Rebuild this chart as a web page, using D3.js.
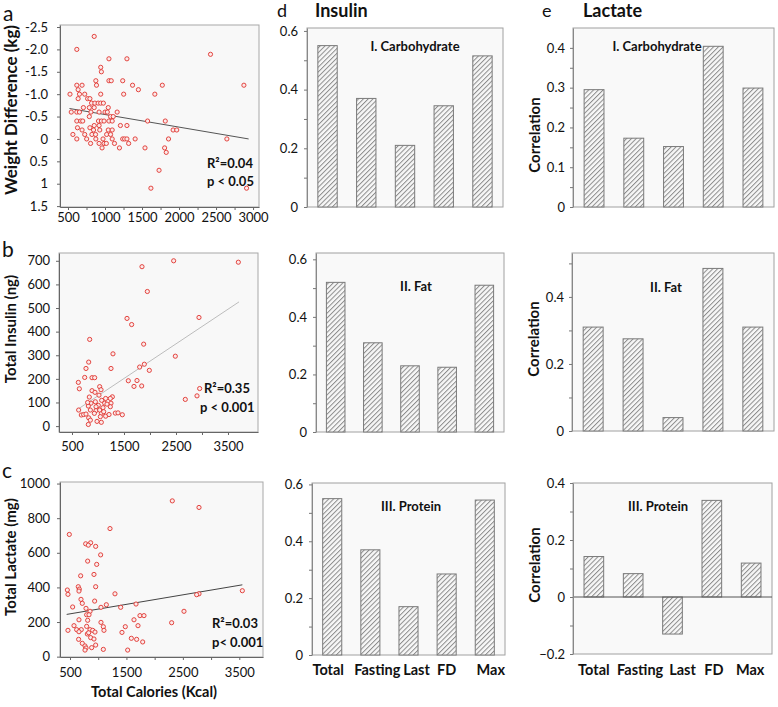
<!DOCTYPE html>
<html><head><meta charset="utf-8">
<script src="https://cdn.jsdelivr.net/npm/d3@7"></script>
<style>body{margin:0;background:#fff}svg{display:block}text{font-family:Lato,"Open Sans",sans-serif;fill:#111}</style>
</head><body><svg id="chart" width="778" height="707"></svg>
<script>
// ---------- DATA ----------
// a: Total calories (Kcal) vs weight difference (kg)
const scatterA = [[854,-2.29],[619,-2.0],[2425,-1.89],[1053,-1.79],[1296,-1.79],[942,-1.6],[951,-1.5],
[1053,-1.3],[1084,-1.3],[876,-1.3],[1239,-1.3],[619,-1.2],[690,-1.2],[885,-1.2],[1372,-1.2],[1774,-1.2],[2876,-1.2],
[637,-1.1],[1451,-1.1],[527,-1.0],[655,-1.0],[726,-1.0],[942,-1.0],[1252,-1.0],[1673,-1.0],
[637,-0.9],[765,-0.9],[796,-0.9],[818,-0.8],[863,-0.8],[907,-0.8],[942,-0.8],[978,-0.8],
[708,-0.7],[788,-0.7],[854,-0.7],[1044,-0.7],[544,-0.6],[619,-0.6],[655,-0.6],[810,-0.6],[920,-0.6],[1000,-0.6],[1031,-0.6],[1164,-0.6],
[788,-0.5],[1075,-0.5],[1111,-0.5],[619,-0.4],[672,-0.4],[699,-0.4],[912,-0.4],[951,-0.4],[987,-0.4],[1053,-0.4],[1097,-0.4],[1575,-0.4],[1814,-0.4],
[628,-0.25],[854,-0.3],[920,-0.3],[1208,-0.3],[1296,-0.3],[796,-0.25],
[690,-0.2],[845,-0.2],[929,-0.2],[1044,-0.2],[1097,-0.2],[1920,-0.2],[1969,-0.2],
[566,-0.1],[726,-0.1],[823,-0.1],[872,-0.1],[1022,-0.1],[1075,-0.1],
[619,0],[752,0],[876,0],[973,0],[1097,0],[1239,0],[1265,0],[1296,0],[1407,0],[1858,0],[2646,0],
[805,0.1],[920,0.1],[987,0.1],[1018,0.1],[1128,0.1],[1319,0.1],
[960,0.2],[1195,0.2],[1540,0.2],[1805,0.2],[1827,0.3],[1730,0.7],[1620,1.1],[2912,1.1]];
const fitA = [[520,-0.68],[2940,0.0]];
const aXTicks = [500,1000,1500,2000,2500,3000];
const aYTicks = [-2.5,-2,-1.5,-1,-0.5,0,0.5,1,1.5];
const aYLabels = ["-2.5","-2.0","-1.5","-1.0","-0.5","0","0.5","1","1.5"];

// b: Total calories vs total insulin (ng)
const scatterB = [[2455,700],[3699,694],[1846,675],[1949,570],[1558,456],[2942,460],[1647,430],[840,367],[1878,347],[1288,306],
[2487,296],[821,271],[1891,262],[769,244],[1250,244],[1801,250],[1987,236],[744,206],[885,205],[936,205],[622,185],[1583,192],
[1750,193],[641,158],[1032,167],[1058,154],[885,150],[942,143],[1692,168],[1840,170],[833,123],[1276,124],[1250,97],[1071,109],
[1128,97],[865,97],[1006,88],[814,85],[628,68],[679,47],[724,49],[962,66],[1064,54],[1147,42],[1212,49],[1333,55],[1385,56],
[1468,48],[821,35],[853,25],[981,20],[1064,16],[814,7],[1096,78],[1237,117],[1237,82],[1173,93],[1019,131],[949,103],[962,82],
[1032,68],[1045,40],[930,54],[1109,61],[769,51],[853,68],[2679,113],[2904,128],[2955,159],[1147,117],[801,100]];
const fitB = [[609,71],[3712,526]];
const bXLabels = [500,1500,2500,3500];
const bYTicks = [0,100,200,300,400,500,600,700];

// c: Total calories vs total lactate (mg)
const scatterC = [[2313,900],[2786,862],[488,706],[1209,740],[778,652],[866,658],[825,644],[955,637],[813,552],[1043,588],[973,533],
[689,467],[925,475],[647,404],[665,390],[659,379],[955,404],[453,385],[464,360],[1297,363],[2786,363],[2744,358],[3554,381],
[695,331],[937,321],[718,308],[1670,304],[1144,300],[784,279],[1049,285],[1398,285],[547,287],[855,262],[795,242],[837,242],
[2520,262],[1740,237],[1811,237],[1634,213],[659,213],[813,210],[1049,198],[2301,196],[571,179],[795,175],[1091,173],[1480,173],
[1705,179],[464,152],[618,156],[700,156],[855,156],[902,152],[943,142],[1102,152],[659,144],[807,131],[1421,140],[866,110],
[653,100],[1587,106],[1681,100],[925,102],[718,77],[766,62],[955,67],[784,50],[884,52],[1091,42],[1522,38],[1788,85],[766,38],[831,138]];
const fitC = [[441,244],[3554,415]];
const cXLabels = [500,1500,2500,3500];
const cYTicks = [0,200,400,600,800,1000];

// d/e: correlation bars
const categories = ["Total","Fasting","Last","FD","Max"];
const insulinCarb    = [0.55, 0.37, 0.21, 0.345, 0.515];
const insulinFat     = [0.52, 0.31, 0.23, 0.225, 0.51];
const insulinProtein = [0.55, 0.37, 0.17, 0.285, 0.545];
const lactateCarb    = [0.295, 0.173, 0.152, 0.404, 0.299];
const lactateFat     = [0.31, 0.275, 0.04, 0.485, 0.31];
const lactateProtein = [0.142, 0.082, -0.13, 0.339, 0.119];

// ---------- DRAWING ----------
const svg = d3.select("#chart");
const defs = svg.append("defs");
const pat = defs.append("pattern").attr("id","hatch").attr("patternUnits","userSpaceOnUse")
  .attr("width",3.4).attr("height",3.4).attr("patternTransform","rotate(45)");
pat.append("rect").attr("width",3.4).attr("height",3.4).attr("fill","#f7f7f7");
pat.append("line").attr("x1",0.5).attr("y1",0).attr("x2",0.5).attr("y2",3.4).attr("stroke","#8c8c8c").attr("stroke-width",1);

function txt(x,y,s,size,weight,anchor){
  return svg.append("text").attr("x",x).attr("y",y).attr("font-size",size)
    .attr("font-weight",weight||"normal").attr("text-anchor",anchor||"start").text(s);
}
function vtxt(x,y,s,size){
  return svg.append("text").attr("transform",`translate(${x},${y}) rotate(-90)`)
    .attr("font-size",size).attr("font-weight","bold").attr("text-anchor","middle").text(s);
}

function scatter(o){
  const x = d3.scaleLinear().domain(o.xd).range([o.l,o.r]);
  const y = d3.scaleLinear().domain(o.yd).range(o.yr);
  const g = svg.append("g");
  g.append("rect").attr("x",o.l).attr("y",o.t).attr("width",o.r-o.l).attr("height",o.b-o.t)
    .attr("fill","#f8f8f8").attr("stroke","#a8a8a8").attr("stroke-width",1);
  const ya = g.append("g").attr("transform",`translate(${o.l},0)`)
    .call(d3.axisLeft(y).tickValues(o.yTicks).tickSize(3).tickSizeOuter(0).tickPadding(o.yPad)
      .tickFormat((d,i)=> o.yLabels ? o.yLabels[i] : d));
  const xa = g.append("g").attr("transform",`translate(0,${o.b})`)
    .call(d3.axisBottom(x).tickValues(o.xTicks).tickSize(3).tickSizeOuter(0)
      .tickFormat(d=> o.xLabels.includes(d) ? d : ""));
  [ya,xa].forEach(a=>{
    a.select(".domain").attr("stroke","#666");
    a.selectAll(".tick line").attr("stroke","#666");
    a.selectAll("text").attr("font-size",13).attr("font-family","Lato,sans-serif").attr("fill","#111");
  });
  xa.selectAll("text").attr("dy",null).attr("y",o.xLabOff);
  g.append("line").attr("x1",x(o.fit[0][0])).attr("y1",y(o.fit[0][1]))
    .attr("x2",x(o.fit[1][0])).attr("y2",y(o.fit[1][1]))
    .attr("stroke",o.fitColor).attr("stroke-width",1);
  g.selectAll("circle.pt").data(o.data).join("circle").attr("class","pt")
    .attr("cx",d=>x(d[0])).attr("cy",d=>y(d[1])).attr("r",2.1)
    .attr("fill","#fbeaea").attr("stroke","#e0332e").attr("stroke-width",0.9);
}

scatter({data:scatterA, fit:fitA, fitColor:"#555", l:60, r:259, t:25, b:207,
  xd:[392,3080], yd:[-2.545,1.52], yr:[25,207],
  xTicks:[500,750,1000,1250,1500,1750,2000,2250,2500,2750,3000], xLabels:aXTicks,
  yTicks:aYTicks, yLabels:aYLabels, yPad:9, xLabOff:15});
scatter({data:scatterB, fit:fitB, fitColor:"#bdbdbd", l:59, r:258, t:253, b:432,
  xd:[250,4077], yd:[-25,733], yr:[432,253],
  xTicks:[500,1000,1500,2000,2500,3000,3500], xLabels:bXLabels,
  yTicks:bYTicks, yPad:6, xLabOff:19});
scatter({data:scatterC, fit:fitC, fitColor:"#444", l:60, r:263, t:482, b:657,
  xd:[323,3920], yd:[-2,1009], yr:[657,482],
  xTicks:[500,1000,1500,2000,2500,3000,3500], xLabels:cXLabels,
  yTicks:cYTicks, yPad:7, xLabOff:20});

// stats text
txt(207,168,"R²=0.04",13,"bold");
txt(207,186,"p < 0.05",13,"bold");
txt(204,393,"R²=0.35",13,"bold");
txt(200,412,"p < 0.001",13,"bold");
txt(212,628,"R²=0.03",13,"bold");
txt(212,647,"p< 0.001",13,"bold");

// axis titles
vtxt(17,110,"Weight Difference (kg)",17);
vtxt(16,329,"Total Insulin (ng)",15);
vtxt(16,557,"Total Lactate (mg)",15);
txt(154,697,"Total Calories (Kcal)",14.5,"bold","middle");

// panel letters and headings
txt(3,21,"a",21);
txt(2,257,"b",21);
txt(2,478,"c",21);
txt(277,17,"d",18);
txt(542,17,"e",18);
txt(315,17,"Insulin",18,"bold");
txt(583,17,"Lactate",18,"bold");

function barPanel(o){
  const x = d3.scaleBand().domain(categories).range([o.l,o.r]).paddingInner(0.5).paddingOuter(0.28);
  const y = d3.scaleLinear().domain(o.yd).range([o.b,o.t]);
  const g = svg.append("g");
  g.append("rect").attr("x",o.l).attr("y",o.t).attr("width",o.r-o.l).attr("height",o.b-o.t)
    .attr("fill","#f9f9f9").attr("stroke","#a0a0a0").attr("stroke-width",1);
  g.selectAll("rect.bar").data(o.values).join("rect").attr("class","bar")
    .attr("x",(d,i)=>x(categories[i])).attr("width",x.bandwidth())
    .attr("y",d=>y(Math.max(0,d))).attr("height",d=>Math.abs(y(d)-y(0)))
    .attr("fill","url(#hatch)").attr("stroke","#7a7a7a").attr("stroke-width",1);
  if (o.yd[0] < 0) {
    g.append("line").attr("x1",o.l).attr("x2",o.r).attr("y1",y(0)).attr("y2",y(0))
      .attr("stroke","#555").attr("stroke-width",1);
  }
  const ya = g.append("g").attr("transform",`translate(${o.l},0)`)
    .call(d3.axisLeft(y).tickValues(o.ticks).tickSize(3).tickSizeOuter(0).tickPadding(o.pad||6)
      .tickFormat(d=> o.labels.some(v=>Math.abs(v-d)<1e-9) ? d3.format("")(+d.toFixed(2)) : ""));
  ya.select(".domain").attr("stroke","#888");
  ya.selectAll(".tick line").attr("stroke","#777");
  ya.selectAll("text").attr("font-size",13).attr("font-family","Lato,sans-serif").attr("fill","#111");
  txt(o.labX,o.labY,o.label,13,"bold","middle");
  if (o.ylab) vtxt(o.l-33,o.ylabY,"Correlation",15);
  if (o.cats) {
    categories.forEach((c,i)=>{
      txt(x(c)+x.bandwidth()/2 + o.catDx[i], 675, c, 14.5, "bold", "middle");
    });
  }
}
const dTicks = [0,0.1,0.2,0.3,0.4,0.5,0.6];
const dLabels = [0,0.2,0.4,0.6];
barPanel({values:insulinCarb, l:307,r:503,t:28,b:207, yd:[0,0.61], ticks:dTicks, labels:dLabels,
  label:"I. Carbohydrate", labX:415, labY:51});
barPanel({values:insulinFat, l:316,r:504,t:253,b:432, yd:[0,0.622], ticks:dTicks, labels:dLabels,
  label:"II. Fat", labX:416, labY:291});
barPanel({values:insulinProtein, l:312,r:505,t:483,b:655, yd:[0,0.605], ticks:dTicks, labels:dLabels,
  label:"III. Protein", labX:411, labY:511, cats:true, catDx:[-4,7,8,0,6]});
barPanel({values:lactateCarb, l:573,r:774,t:28,b:207, yd:[0,0.45],
  ticks:[0,0.05,0.1,0.15,0.2,0.25,0.3,0.35,0.4], labels:[0,0.1,0.2,0.3,0.4],
  label:"I. Carbohydrate", labX:657, labY:51, ylab:true, ylabY:135, pad:5});
barPanel({values:lactateFat, l:572,r:774,t:253,b:431, yd:[0,0.531],
  ticks:[0,0.1,0.2,0.3,0.4,0.5], labels:[0,0.2,0.4],
  label:"II. Fat", labX:666, labY:292, ylab:true, ylabY:339, pad:5});
barPanel({values:lactateProtein, l:573,r:772,t:483,b:654, yd:[-0.2,0.4],
  ticks:[-0.2,-0.1,0,0.1,0.2,0.3,0.4], labels:[-0.2,0,0.2,0.4],
  label:"III. Protein", labX:658, labY:511, ylab:true, ylabY:565, pad:5, cats:true, catDx:[0,7,10,2,-1]});
</script></body></html>
